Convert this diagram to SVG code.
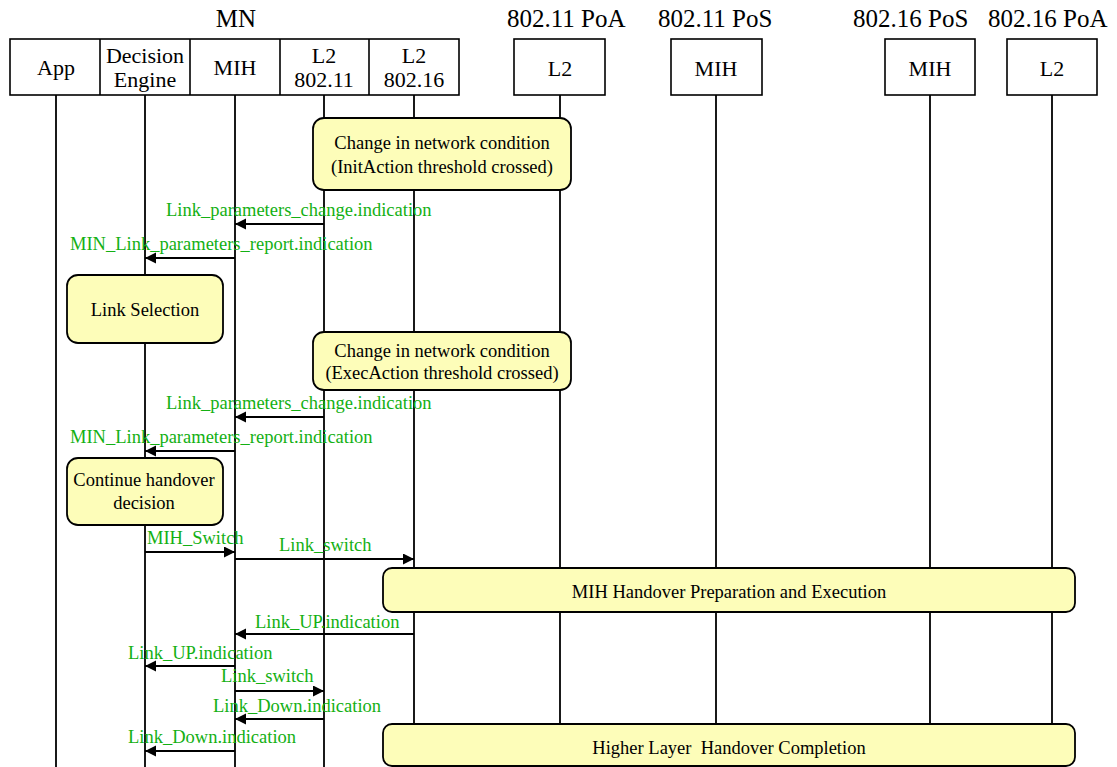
<svg xmlns="http://www.w3.org/2000/svg" width="1117" height="767" viewBox="0 0 1117 767">
<defs>
<marker id="ah" markerUnits="userSpaceOnUse" markerWidth="12" markerHeight="12" refX="11" refY="5.5" orient="auto">
<path d="M0,0 L11,5.5 L0,11 z" fill="#000"/>
</marker>
<style>
.t{font-family:"Liberation Serif","Times New Roman",serif;fill:#000}
.ttl{font-size:25px}
.hd{font-size:22px;text-anchor:middle}
.bx{font-size:18.5px;text-anchor:middle}
.msg{font-family:"Liberation Serif","Times New Roman",serif;font-size:18.5px;fill:#13b013}
.hb{fill:#fff;stroke:#000;stroke-width:1.6}
.life{stroke:#000;stroke-width:1.8;fill:none}
.act{fill:#fdfdb9;stroke:#000;stroke-width:1.8}
.arr{stroke:#000;stroke-width:2;fill:none;marker-end:url(#ah)}
</style>
</defs>
<rect width="1117" height="767" fill="#fff"/>

<g id="lifelines" class="life">
<line x1="56" y1="95" x2="56" y2="767"/>
<line x1="145" y1="95" x2="145" y2="767"/>
<line x1="235" y1="95" x2="235" y2="767"/>
<line x1="324" y1="95" x2="324" y2="767"/>
<line x1="414" y1="95" x2="414" y2="767"/>
<line x1="560" y1="95" x2="560" y2="767"/>
<line x1="716" y1="95" x2="716" y2="767"/>
<line x1="930" y1="95" x2="930" y2="767"/>
<line x1="1052" y1="95" x2="1052" y2="767"/>
</g>

<g id="titles" class="t ttl">
<text x="236" y="27" text-anchor="middle">MN</text>
<text x="507" y="27">802.11 PoA</text>
<text x="658" y="27">802.11 PoS</text>
<text x="853" y="27">802.16 PoS</text>
<text x="988" y="27">802.16 PoA</text>
</g>

<g id="mn-header">
<rect class="hb" x="10" y="39" width="449" height="56"/>
<line x1="100" y1="39" x2="100" y2="95" stroke="#000" stroke-width="1.6"/>
<line x1="190" y1="39" x2="190" y2="95" stroke="#000" stroke-width="1.6"/>
<line x1="280" y1="39" x2="280" y2="95" stroke="#000" stroke-width="1.6"/>
<line x1="369" y1="39" x2="369" y2="95" stroke="#000" stroke-width="1.6"/>
</g>
<g id="app" class="t hd"><text x="56" y="75">App</text></g>
<g id="decision-engine" class="t hd"><text x="145" y="63">Decision</text><text x="145" y="87">Engine</text></g>
<g id="mn-mih" class="t hd"><text x="235" y="75">MIH</text></g>
<g id="l2-80211" class="t hd"><text x="324" y="63">L2</text><text x="324" y="87">802.11</text></g>
<g id="l2-80216" class="t hd"><text x="414" y="63">L2</text><text x="414" y="87">802.16</text></g>

<g id="poa11-l2"><rect class="hb" x="514" y="39" width="91" height="56"/><text class="t hd" x="560" y="76">L2</text></g>
<g id="pos11-mih"><rect class="hb" x="671" y="39" width="91" height="56"/><text class="t hd" x="716" y="76">MIH</text></g>
<g id="pos16-mih"><rect class="hb" x="885" y="39" width="90" height="56"/><text class="t hd" x="930" y="76">MIH</text></g>
<g id="poa16-l2"><rect class="hb" x="1007" y="39" width="90" height="56"/><text class="t hd" x="1052" y="76">L2</text></g>

<g id="init-action">
<rect class="act" x="313" y="118" width="258" height="72" rx="11"/>
<text class="t bx" x="442" y="149">Change in network condition</text>
<text class="t bx" x="442" y="173">(InitAction threshold crossed)</text>
</g>
<g id="link-selection">
<rect class="act" x="67" y="275" width="156" height="68" rx="11"/>
<text class="t bx" x="145" y="316">Link Selection</text>
</g>
<g id="exec-action">
<rect class="act" x="313" y="332" width="258" height="58" rx="11"/>
<text class="t bx" x="442" y="357">Change in network condition</text>
<text class="t bx" x="442" y="379">(ExecAction threshold crossed)</text>
</g>
<g id="continue-handover">
<rect class="act" x="67" y="458" width="156" height="67" rx="11"/>
<text class="t bx" x="144" y="486">Continue handover</text>
<text class="t bx" x="144" y="509">decision</text>
</g>
<g id="mih-handover">
<rect class="act" x="383" y="568" width="692" height="44" rx="9"/>
<text class="t bx" x="729" y="598">MIH Handover Preparation and Execution</text>
</g>
<g id="higher-layer">
<rect class="act" x="383" y="724" width="692" height="42" rx="9"/>
<text class="t bx" x="729" y="754" xml:space="preserve">Higher Layer  Handover Completion</text>
</g>

<g id="connectors">
<line class="arr" x1="324" y1="224" x2="235" y2="224"/>
<line class="arr" x1="235" y1="258" x2="145" y2="258"/>
<line class="arr" x1="324" y1="417" x2="235" y2="417"/>
<line class="arr" x1="235" y1="451" x2="145" y2="451"/>
<line class="arr" x1="145" y1="552" x2="235" y2="552"/>
<line class="arr" x1="235" y1="559" x2="414" y2="559"/>
<line class="arr" x1="414" y1="634" x2="235" y2="634"/>
<line class="arr" x1="235" y1="666" x2="145" y2="666"/>
<line class="arr" x1="235" y1="691" x2="324" y2="691"/>
<line class="arr" x1="324" y1="719" x2="235" y2="719"/>
<line class="arr" x1="235" y1="751" x2="145" y2="751"/>
<g class="msg">
<text x="166" y="216">Link_parameters_change.indication</text>
<text x="70" y="250">MIN_Link_parameters_report.indication</text>
<text x="166" y="409">Link_parameters_change.indication</text>
<text x="70" y="443">MIN_Link_parameters_report.indication</text>
<text x="147" y="544">MIH_Switch</text>
<text x="279" y="551">Link_switch</text>
<text x="255" y="628">Link_UP.indication</text>
<text x="128" y="659">Link_UP.indication</text>
<text x="221" y="682">Link_switch</text>
<text x="213" y="712">Link_Down.indication</text>
<text x="128" y="743">Link_Down.indication</text>
</g>
</g>
</svg>
